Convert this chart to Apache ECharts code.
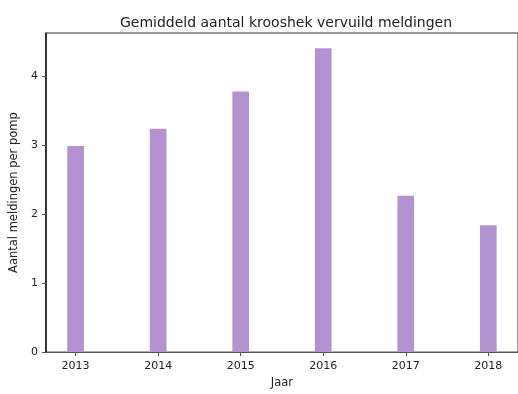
<!DOCTYPE html>
<html>
<head>
<meta charset="utf-8">
<script src="https://cdn.jsdelivr.net/npm/echarts@6/dist/echarts.min.js"></script>
<style>
  html, body { margin: 0; padding: 0; background: #fff; }
  #chart { width: 518px; height: 394px; }
</style>
</head>
<body>
<div id="chart"></div>
<script>
// Average number of "krooshek vervuild" reports per pump, per year
const years = [2013, 2014, 2015, 2016, 2017, 2018];
const meldingen = [2.99, 3.24, 3.78, 4.41, 2.27, 1.84];
const yTicks = [0, 1, 2, 3, 4];

const font = 'DejaVu Sans';
const barColor = '#b292d0';

const chart = echarts.init(document.getElementById('chart'), null, { renderer: 'canvas' });

const yMax = Math.max(...meldingen) * 1.05;

chart.setOption({
  animation: false,
  backgroundColor: '#ffffff',
  title: {
    text: 'Gemiddeld aantal krooshek vervuild meldingen',
    left: 281, top: 11, textAlign: 'center',
    textStyle: { fontFamily: font, fontSize: 14, fontWeight: 'normal', color: '#222' }
  },
  grid: {
    left: 43, top: 33, width: 477, height: 325,
    show: true, borderColor: '#333', borderWidth: 1, backgroundColor: 'transparent'
  },
  xAxis: {
    type: 'value',
    min: years[0] - 0.36,
    max: years[years.length - 1] + 0.36,
    name: 'Jaar',
    nameLocation: 'middle',
    nameGap: 24,
    nameTextStyle: { fontFamily: font, fontSize: 11.5, color: '#222' },
    splitLine: { show: false },
    axisLine: { show: true, lineStyle: { color: '#555', width: 1 } },
    axisTick: { show: true, length: 4, customValues: years, lineStyle: { color: '#555' } },
    axisLabel: {
      customValues: years, margin: 9,
      fontFamily: font, fontSize: 11, color: '#222',
      formatter: v => String(v)
    }
  },
  yAxis: {
    type: 'value',
    min: 0,
    max: yMax,
    name: 'Aantal meldingen per pomp',
    nameLocation: 'middle',
    nameGap: 23,
    nameTextStyle: { fontFamily: font, fontSize: 11.5, color: '#222' },
    splitLine: { show: false },
    axisLine: { show: true, lineStyle: { color: '#111', width: 1.5 } },
    axisTick: { show: true, length: 4, customValues: yTicks, lineStyle: { color: '#555' } },
    axisLabel: {
      customValues: yTicks, margin: 8,
      fontFamily: font, fontSize: 11, color: '#222'
    }
  },
  series: [{
    type: 'bar',
    data: years.map((y, i) => [y, meldingen[i]]),
    barWidth: 16.7,
    itemStyle: { color: barColor }
  }]
});
</script>
</body>
</html>
